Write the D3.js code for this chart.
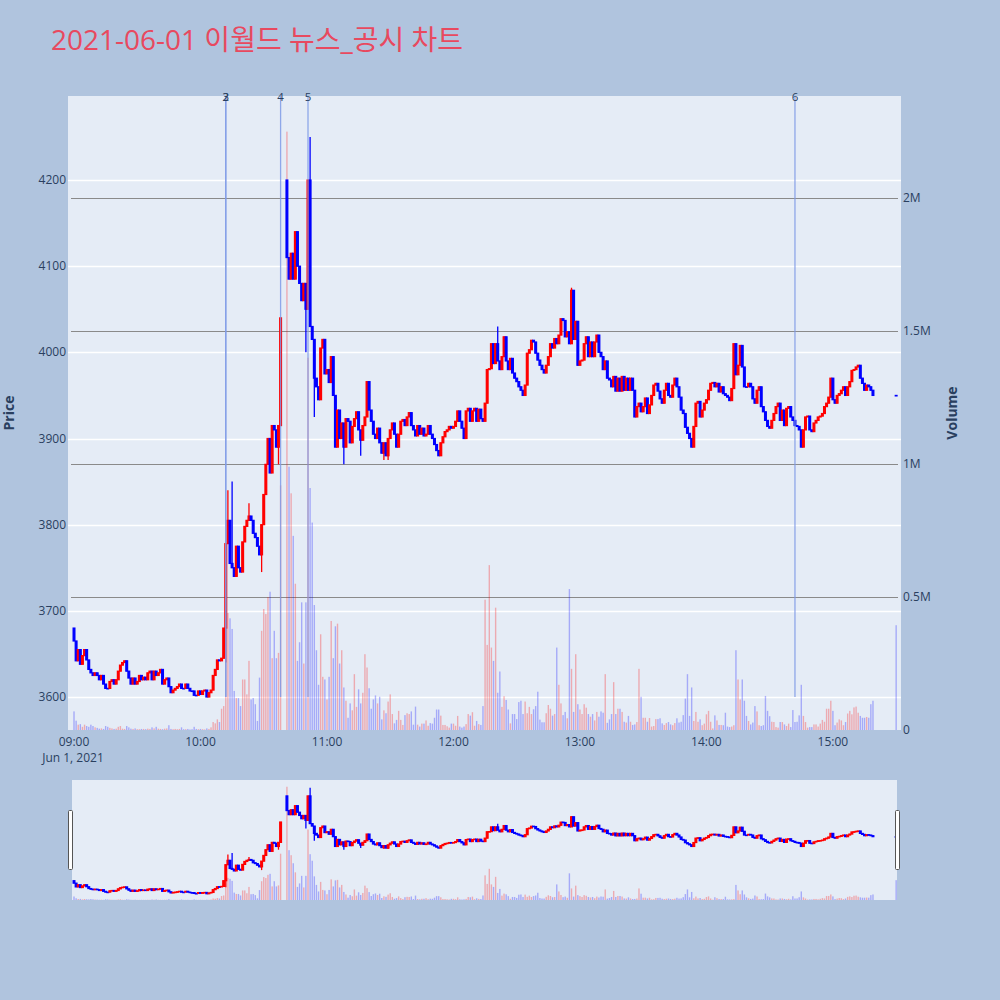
<!DOCTYPE html>
<html>
<head>
<meta charset="utf-8">
<script src="https://cdn.jsdelivr.net/npm/d3@7"></script>
<style>
  body { margin: 0; background: #b0c4de; }
  svg text { font-family: "Open Sans", "Noto Sans CJK KR", sans-serif; }
</style>
</head>
<body>
<div id="chart"></div>
<script>
'use strict'

////////////////////////////////////
//////////////// data //////////////
////////////////////////////////////

const title = '2021-06-01 이월드 뉴스_공시 차트'

// 1-minute closes from 09:00 (index = minutes after 09:00), null = trading halt
const closes = [
  3665,3642,3655,3638,3648,3655,3643,3632,3628,3625,
  3628,3625,3620,3625,3615,3610,3610,3618,3620,3615,
  3620,3630,3637,3640,3642,3630,3622,3615,3622,3615,
  3618,3625,3620,3623,3620,3628,3630,3620,3630,3625,
  3628,3632,3615,3620,3622,3612,3605,3608,3610,3612,
  3615,3610,3610,3615,3610,3607,3607,3602,3602,3607,
  3603,3607,3608,3600,3605,3608,3625,3632,3643,3642,
  3645,3680,
  3778,3805,3755,3750,3740,3775,3750,3745,3780,3798,
  3805,3810,3805,3790,3785,3775,3765,3800,3835,3870,
  3900,3860,3915,3910,3890,3915,4040,
  null,null,
  4110,4085,4115,4085,4140,4100,4080,4060,4080,4050,
  4200,4030,4015,3970,3960,3945,4005,4015,3975,3980,
  3965,3995,3950,
  3890,3933,3900,3918,3890,3923,3920,3895,3914,3923,
  3931,3910,3898,3915,3925,3966,3933,3920,3905,3900,
  3912,3895,3883,3895,3880,3900,3910,3918,3905,3890,
  3905,3920,3922,3915,3925,3930,3915,3910,3903,3915,
  3905,3912,3903,3905,3915,3905,3900,3893,3886,3880,
  3895,3902,3908,3910,3914,3912,3914,3920,3932,3920,
  3912,3900,3932,3935,3920,3932,3935,3920,3934,
  3923,3920,3941,3980,3981,4010,3987,4010,3990,3980,
  3995,4018,3990,3980,3993,3976,3970,3966,3960,3956,
  3950,3962,3999,4003,4014,4012,3999,3991,3985,3980,
  3976,3985,3995,4010,4005,4016,4010,4020,4039,4037,
  4018,4024,4010,4072,4015,4036,3985,3990,3991,4010,
  4018,3995,4012,3995,4012,4020,4000,3995,3980,3990,
  3970,3968,3960,3972,3955,3970,3955,3972,3956,3970,
  3956,3970,3956,3925,3937,3941,3931,3937,3947,3929,
  3939,3950,3962,3964,3955,
  3946,3941,3956,3964,3950,3948,3962,3970,3960,3948,
  3933,3929,3913,3906,3900,3890,3914,3941,3943,3925,
  3933,3941,3945,3956,3964,3965,3960,3964,3954,3960,
  3952,3950,3948,3944,3958,4010,3974,3985,4008,3983,
  3960,3960,3964,3960,3946,3941,3956,3960,3937,3931,
  3921,3914,3912,3921,3929,3937,3941,3921,3933,3915,
  3935,3937,3925,3921,3915,3914,3910,3890,3910,3925,
  3926,3910,3908,3918,3921,3925,3926,3929,3937,3941,
  3948,3970,3945,3941,3950,3952,3956,3960,3950,3960,
  3966,3979,3980,3983,3985,3970,3964,3956,3962,3960,
  3956,3950
]

// 1-minute volume, millions of shares
const volumeM = [
  0.07,0.035,0.02,0.022,0.012,0.02,0.015,0.012,0.02,0.015,
  0.01,0.008,0.005,0.006,0.004,0.015,0.012,0.008,0.006,0.004,
  0.005,0.012,0.015,0.005,0.004,0.015,0.01,0.005,0.004,0.006,
  0.003,0.003,0.004,0.004,0.003,0.005,0.004,0.01,0.006,0.012,
  0.005,0.004,0.003,0.005,0.006,0.018,0.004,0.003,0.004,0.003,
  0.004,0.01,0.003,0.003,0.004,0.002,0.003,0.012,0.004,0.003,
  0.004,0.003,0.002,0.006,0.004,0.01,0.03,0.025,0.04,0.03,
  0.08,0.09,
  0.44,0.44,0.42,0.38,0.147,0.12,0.12,0.09,0.19,0.19,
  0.134,0.26,0.115,0.12,0.097,0.034,0.197,0.373,0.455,0.436,
  0.5,0.52,0.27,0.373,0.27,0.29,0.92,
  null,null,
  2.25,0.99,0.89,0.73,0.55,0.26,0.33,0.48,0.25,0.48,
  1.4,0.91,0.78,0.47,0.3,0.17,0.36,
  0.2,0.19,0.115,0.2,0.41,0.27,0.39,0.4,0.25,0.3,
  0.16,0.11,0.046,0.1,0.074,0.21,0.087,0.153,0.1,0.14,
  0.285,0.235,0.157,0.08,0.115,0.13,0.1,0.125,0.04,0.074,
  0.063,0.107,0.134,0.06,0.025,0.038,0.072,0.038,0.019,0.056,
  0.063,0.06,0.07,0.02,0.088,0.02,0.013,0.024,0.024,0.036,
  0.016,0.026,0.024,0.046,0.077,0.077,0.054,0.019,0.019,0.014,
  0.009,0.024,0.024,0.016,0.053,0.013,0.009,0.013,0.022,0.06,
  0.054,0.067,0.016,0.034,0.022,0.019,0.09,0.49,0.32,0.62,
  0.31,0.26,0.46,0.14,0.22,0.087,0.127,0.113,0.077,0.025,
  0.06,0.06,0.041,0.105,0.11,0.06,0.107,0.063,0.087,0.06,
  0.078,0.09,0.144,0.039,0.029,0.029,0.063,0.094,0.08,0.054,
  0.06,0.31,0.17,0.1,0.056,0.068,0.044,0.53,0.23,0.068,
  0.285,0.097,0.077,0.06,0.097,0.084,0.06,0.05,0.06,0.036,
  0.068,0.05,0.07,0.065,0.21,0.027,0.04,0.06,0.18,0.06,
  0.08,
  0.08,0.068,0.031,0.028,0.053,0.031,0.019,0.021,0.03,0.23,
  0.125,0.046,0.046,0.031,0.045,0.013,0.015,0.041,0.041,0.044,
  0.025,0.019,0.026,0.03,0.021,0.018,0.026,0.044,0.028,0.031,
  0.056,0.118,0.21,0.053,0.16,0.034,0.068,0.031,0.04,0.018,
  0.024,0.059,0.072,0.031,0.006,0.055,0.036,0.019,0.019,0.018,
  0.065,0.013,0.011,0.013,0.018,0.3,0.19,0.115,0.19,0.11,
  0.053,0.034,0.021,0.028,0.09,0.07,0.018,0.015,0.018,0.128,
  0.072,0.052,0.031,0.03,0.011,0.009,0.03,0.03,0.021,0.015,
  0.024,0.011,0.075,0.03,0.031,0.055,0.17,0.053,0.03,0.009,
  0.011,0.011,0.021,0.021,0.013,0.024,0.038,0.031,0.08,0.08,
  0.11,0.072,0.018,0.028,0.04,0.036,0.018,0.03,0.062,0.072,
  0.059,0.085,0.088,0.065,0.053,0.046,0.046,0.049,0.046,0.097,
  0.11
]

// opens that differ from the previous close: [minute, open]
const openGaps = [[0, 3680], [101, 4200]]
// wicks beyond the candle body: [minute, price]
const highMarks = [[73, 3840], [75, 3850], [83, 3825], [112, 4250], [201, 4030], [236, 4075]]
const lowMarks = [[72, 3640], [89, 3745], [97, 3870], [110, 4000], [114, 3925], [128, 3870], [136, 3880], [147, 3875], [149, 3875]]

// closing auction candle
const auctionTime = '15:30'
const auctionPrice = 3950
const auctionVolumeM = 0.394

// news / disclosure markers
const eventLabels = ['2', '3', '4', '5', '6']
const eventTimes = ['10:12', '10:12', '10:38', '10:51', '14:42']

const priceTicks = [3600, 3700, 3800, 3900, 4000, 4100, 4200]
const volumeTicks = [0, 0.5, 1, 1.5, 2]
const volumeTickLabels = ['0', '0.5M', '1M', '1.5M', '2M']
const timeTicks = ['09:00', '10:00', '11:00', '12:00', '13:00', '14:00', '15:00']

////////////////////////////////////
//////////// svg setup /////////////
////////////////////////////////////

const svgWidth = 1000
const svgHeight = 1000
const plot = {left: 68, right: 901, top: 96, bottom: 730}
const slider = {left: 72, right: 897, top: 780, bottom: 900}
const textColor = '#2a3f5f'
const upColor = '#ff0000'
const downColor = '#0000ff'

const svg = d3.select('#chart')
    .append('svg')
    .attr('width', svgWidth)
    .attr('height', svgHeight)
    .style('background', '#b0c4de')

////////////////////////////////////
////////////// wrangle /////////////
////////////////////////////////////

const at = (h, m) => new Date(2021, 5, 1, h, m)
const parseHM = s => at(+s.split(':')[0], +s.split(':')[1])

const openMap = new Map(openGaps)
const highMap = new Map(highMarks)
const lowMap = new Map(lowMarks)

const candles = []
let prevClose = null
closes.forEach((c, i) => {
    if (c == null) return
    const open = openMap.has(i) ? openMap.get(i) : prevClose
    const high = Math.max(open, c, highMap.get(i) || -Infinity)
    const low = Math.min(open, c, lowMap.get(i) || Infinity)
    const ref = prevClose == null ? open : prevClose
    candles.push({t: at(9, i), open, close: c, high, low, vol: volumeM[i], volUp: c > ref})
    prevClose = c
})
candles.push({t: parseHM(auctionTime), open: auctionPrice, close: auctionPrice,
    high: auctionPrice, low: auctionPrice, vol: auctionVolumeM, volUp: auctionPrice > prevClose})

////////////////////////////////////
////////////// scales //////////////
////////////////////////////////////

const xScale = d3.scaleTime()
    .domain([new Date(2021, 5, 1, 8, 57, 9), new Date(2021, 5, 1, 15, 32, 18)])
    .range([plot.left, plot.right])

const priceDomain = [3561.7, 4297.5]
const volumeDomain = [0, 2.384]

const yPrice = d3.scaleLinear().domain(priceDomain).range([plot.bottom, plot.top])
const yVolume = d3.scaleLinear().domain(volumeDomain).range([plot.bottom, plot.top])

const yPriceS = d3.scaleLinear().domain(priceDomain).range([slider.bottom, slider.top])
const yVolumeS = d3.scaleLinear().domain(volumeDomain).range([slider.bottom, slider.top])

////////////////////////////////////
/////////////// title //////////////
////////////////////////////////////

svg.append('text')
    .attr('x', 51)
    .attr('y', 50)
    .attr('font-size', 28)
    .attr('fill', '#e8495f')
    .text(title)

////////////////////////////////////
//////////// plot frame ////////////
////////////////////////////////////

svg.append('rect')
    .attr('x', plot.left).attr('y', plot.top)
    .attr('width', plot.right - plot.left).attr('height', plot.bottom - plot.top)
    .attr('fill', '#e5ecf6')

const defs = svg.append('defs')
defs.append('clipPath').attr('id', 'clipMain')
    .append('rect')
    .attr('x', plot.left).attr('y', plot.top)
    .attr('width', plot.right - plot.left).attr('height', plot.bottom - plot.top)
defs.append('clipPath').attr('id', 'clipSlider')
    .append('rect')
    .attr('x', slider.left).attr('y', slider.top)
    .attr('width', slider.right - slider.left).attr('height', slider.bottom - slider.top)

// price grid (white)
svg.append('g')
    .selectAll('line')
    .data(priceTicks)
    .join('line')
    .attr('x1', plot.left).attr('x2', plot.right)
    .attr('y1', d => Math.round(yPrice(d)) + 0.5)
    .attr('y2', d => Math.round(yPrice(d)) + 0.5)
    .attr('stroke', '#ffffff')
    .attr('stroke-width', 1.5)

// volume grid (gray)
svg.append('g')
    .selectAll('line')
    .data(volumeTicks.filter(d => d > 0))
    .join('line')
    .attr('x1', plot.left + 3).attr('x2', plot.right - 3)
    .attr('y1', d => Math.round(yVolume(d)) + 0.5)
    .attr('y2', d => Math.round(yVolume(d)) + 0.5)
    .attr('stroke', '#8a8a8a')
    .attr('stroke-width', 1.2)

////////////////////////////////////
///////////// drawing //////////////
////////////////////////////////////

function drawSeries(g, yP, yV, barW, bodyW) {
    g.append('g')
        .selectAll('rect')
        .data(candles.filter(d => d.vol != null))
        .join('rect')
        .attr('x', d => xScale(d.t) - barW / 2)
        .attr('width', barW)
        .attr('y', d => yV(d.vol))
        .attr('height', d => yV(0) - yV(d.vol))
        .attr('fill', d => d.volUp ? upColor : downColor)
        .attr('opacity', 0.28)

    const c = g.append('g')
        .selectAll('g')
        .data(candles)
        .join('g')
        .attr('fill', d => d.close > d.open ? upColor : downColor)
        .attr('stroke', d => d.close > d.open ? upColor : downColor)

    c.append('line')
        .attr('x1', d => xScale(d.t)).attr('x2', d => xScale(d.t))
        .attr('y1', d => yP(d.high)).attr('y2', d => yP(d.low))
        .attr('stroke-width', 1.3)

    // body with a same-colour outline, like plotly's 2px box line
    c.append('rect')
        .attr('x', d => xScale(d.t) - bodyW / 2)
        .attr('width', bodyW)
        .attr('y', d => yP(Math.max(d.open, d.close)))
        .attr('height', d => Math.max(0.5, Math.abs(yP(d.open) - yP(d.close))))
        .attr('stroke-width', 1.2)
}

const main = svg.append('g').attr('clip-path', 'url(#clipMain)')
drawSeries(main, yPrice, yVolume, 1.4, 1.8)

////////////////////////////////////
////////////// events //////////////
////////////////////////////////////

const events = eventLabels.map((label, i) => ({label, t: parseHM(eventTimes[i])}))

svg.append('g')
    .selectAll('line')
    .data(events)
    .join('line')
    .attr('x1', d => xScale(d.t)).attr('x2', d => xScale(d.t))
    .attr('y1', yPrice(3600)).attr('y2', plot.top)
    .attr('stroke', '#7f9be6')
    .attr('stroke-opacity', 0.85)
    .attr('stroke-width', 1.3)

svg.append('g')
    .selectAll('text')
    .data(events)
    .join('text')
    .attr('x', d => xScale(d.t))
    .attr('y', plot.top + 5)
    .attr('text-anchor', 'middle')
    .attr('font-size', 11.5)
    .attr('fill', textColor)
    .text(d => d.label)

////////////////////////////////////
/////////////// axes ///////////////
////////////////////////////////////

svg.append('g')
    .selectAll('text')
    .data(priceTicks)
    .join('text')
    .attr('x', plot.left - 2)
    .attr('y', d => yPrice(d) + 4)
    .attr('text-anchor', 'end')
    .attr('font-size', 12)
    .attr('fill', textColor)
    .text(d => d)

svg.append('g')
    .selectAll('text')
    .data(volumeTicks)
    .join('text')
    .attr('x', 903)
    .attr('y', d => yVolume(d) + 4)
    .attr('font-size', 12)
    .attr('fill', textColor)
    .text((d, i) => volumeTickLabels[i])

svg.append('g')
    .selectAll('text')
    .data(timeTicks)
    .join('text')
    .attr('x', d => xScale(parseHM(d)))
    .attr('y', 746)
    .attr('text-anchor', 'middle')
    .attr('font-size', 12)
    .attr('fill', textColor)
    .text(d => d)

svg.append('text')
    .attr('x', xScale(parseHM(timeTicks[0])) - 1)
    .attr('y', 762)
    .attr('text-anchor', 'middle')
    .attr('font-size', 12)
    .attr('fill', textColor)
    .text('Jun 1, 2021')

svg.append('text')
    .attr('transform', `translate(14, ${(plot.top + plot.bottom) / 2}) rotate(-90)`)
    .attr('text-anchor', 'middle')
    .attr('font-size', 14)
    .attr('font-weight', 'bold')
    .attr('fill', textColor)
    .text('Price')

svg.append('text')
    .attr('transform', `translate(957, ${(plot.top + plot.bottom) / 2}) rotate(-90)`)
    .attr('text-anchor', 'middle')
    .attr('font-size', 14)
    .attr('font-weight', 'bold')
    .attr('fill', textColor)
    .text('Volume')

////////////////////////////////////
//////////// rangeslider ///////////
////////////////////////////////////

svg.append('rect')
    .attr('x', slider.left).attr('y', slider.top)
    .attr('width', slider.right - slider.left).attr('height', slider.bottom - slider.top)
    .attr('fill', '#e5ecf6')

const mini = svg.append('g').attr('clip-path', 'url(#clipSlider)')
drawSeries(mini, yPriceS, yVolumeS, 1.4, 1.8)

svg.append('g')
    .selectAll('rect')
    .data([slider.left - 3.5, slider.right - 1.5])
    .join('rect')
    .attr('x', d => d)
    .attr('y', 810.5)
    .attr('width', 4)
    .attr('height', 59)
    .attr('rx', 1)
    .attr('fill', '#ffffff')
    .attr('stroke', '#555')
    .attr('stroke-width', 1)
</script>
</body>
</html>
